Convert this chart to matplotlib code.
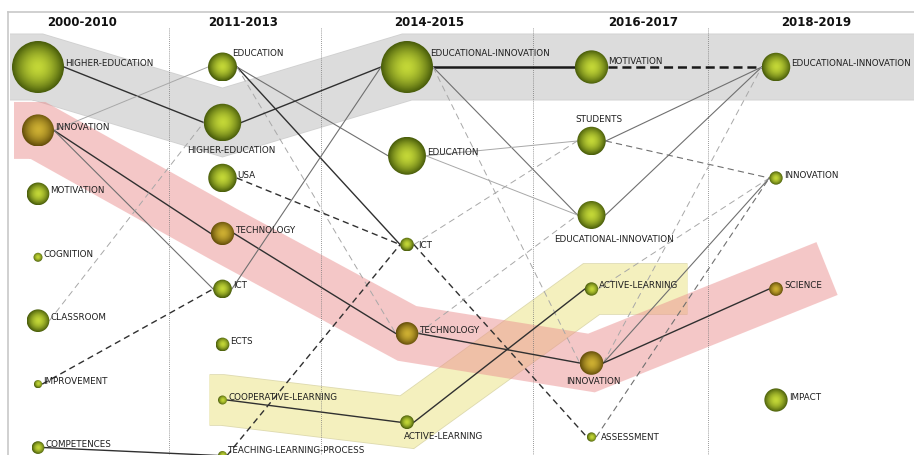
import matplotlib
matplotlib.use('Agg')
import matplotlib.pyplot as plt
from matplotlib.patches import Circle
import numpy as np

# periodos e temas (mapa de evolucao)
periodos = ['2000-2010', '2011-2013', '2014-2015', '2016-2017', '2018-2019']

temas_p1 = ['HIGHER-EDUCATION', 'INNOVATION', 'MOTIVATION', 'COGNITION', 'CLASSROOM', 'IMPROVEMENT', 'COMPETENCES']
docs_p1 = [100, 38, 19, 3, 19, 2.5, 6]

temas_p2 = ['EDUCATION', 'HIGHER-EDUCATION', 'USA', 'TECHNOLOGY', 'ICT', 'ECTS', 'COOPERATIVE-LEARNING',
            'TEACHING-LEARNING-PROCESS']
docs_p2 = [31, 52, 30, 20, 13, 7, 3, 3]

temas_p3 = ['EDUCATIONAL-INNOVATION', 'EDUCATION', 'ICT', 'TECHNOLOGY', 'ACTIVE-LEARNING']
docs_p3 = [100, 53, 7, 19, 7]

temas_p4 = ['MOTIVATION', 'STUDENTS', 'EDUCATIONAL-INNOVATION', 'ACTIVE-LEARNING', 'INNOVATION', 'ASSESSMENT']
docs_p4 = [41, 30, 29, 6.6, 20.6, 3.2]

temas_p5 = ['EDUCATIONAL-INNOVATION', 'INNOVATION', 'SCIENCE', 'IMPACT']
docs_p5 = [30, 6.6, 7, 20]

temas = [temas_p1, temas_p2, temas_p3, temas_p4, temas_p5]
docs = [docs_p1, docs_p2, docs_p3, docs_p4, docs_p5]

# temas da area tematica "innovation/technology" (cor dourada)
dourados = [(0, 'INNOVATION'), (1, 'TECHNOLOGY'), (2, 'TECHNOLOGY'), (3, 'INNOVATION'), (4, 'SCIENCE')]

# ligacoes: (periodo origem, tema origem, tema destino, tipo, peso)
ligacoes = [
    (0, 'HIGHER-EDUCATION', 'HIGHER-EDUCATION', 'solid', 2),
    (0, 'INNOVATION', 'EDUCATION', 'solid', 0),
    (0, 'INNOVATION', 'TECHNOLOGY', 'solid', 2),
    (0, 'INNOVATION', 'ICT', 'solid', 1),
    (0, 'CLASSROOM', 'HIGHER-EDUCATION', 'dashed', 0),
    (0, 'IMPROVEMENT', 'ICT', 'dashed', 2),
    (0, 'COMPETENCES', 'TEACHING-LEARNING-PROCESS', 'solid', 2),
    (1, 'EDUCATION', 'EDUCATION', 'solid', 1),
    (1, 'EDUCATION', 'ICT', 'solid', 2),
    (1, 'EDUCATION', 'TECHNOLOGY', 'dashed', 0),
    (1, 'HIGHER-EDUCATION', 'EDUCATIONAL-INNOVATION', 'solid', 2),
    (1, 'USA', 'ICT', 'dashed', 2),
    (1, 'TECHNOLOGY', 'TECHNOLOGY', 'solid', 2),
    (1, 'ICT', 'EDUCATIONAL-INNOVATION', 'solid', 1),
    (1, 'COOPERATIVE-LEARNING', 'ACTIVE-LEARNING', 'solid', 2),
    (1, 'TEACHING-LEARNING-PROCESS', 'ICT', 'dashed', 2),
    (2, 'EDUCATIONAL-INNOVATION', 'MOTIVATION', 'solid', 3),
    (2, 'EDUCATIONAL-INNOVATION', 'EDUCATIONAL-INNOVATION', 'solid', 1),
    (2, 'EDUCATIONAL-INNOVATION', 'INNOVATION', 'dashed', 0),
    (2, 'EDUCATION', 'STUDENTS', 'solid', 0),
    (2, 'EDUCATION', 'EDUCATIONAL-INNOVATION', 'solid', 0),
    (2, 'ICT', 'STUDENTS', 'dashed', 0),
    (2, 'ICT', 'ASSESSMENT', 'dashed', 2),
    (2, 'TECHNOLOGY', 'INNOVATION', 'solid', 2),
    (2, 'TECHNOLOGY', 'EDUCATIONAL-INNOVATION', 'dashed', 0),
    (2, 'ACTIVE-LEARNING', 'ACTIVE-LEARNING', 'solid', 2),
    (3, 'MOTIVATION', 'EDUCATIONAL-INNOVATION', 'dashed', 3),
    (3, 'STUDENTS', 'EDUCATIONAL-INNOVATION', 'solid', 1),
    (3, 'STUDENTS', 'INNOVATION', 'dashed', 1),
    (3, 'EDUCATIONAL-INNOVATION', 'EDUCATIONAL-INNOVATION', 'solid', 1),
    (3, 'ACTIVE-LEARNING', 'INNOVATION', 'dashed', 0),
    (3, 'INNOVATION', 'EDUCATIONAL-INNOVATION', 'dashed', 0),
    (3, 'INNOVATION', 'INNOVATION', 'solid', 1),
    (3, 'INNOVATION', 'SCIENCE', 'solid', 2),
    (3, 'ASSESSMENT', 'INNOVATION', 'dashed', 1),
]

# areas tematicas (faixas)
faixa_cinza = [(0, 'HIGHER-EDUCATION'), (1, 'HIGHER-EDUCATION'), (2, 'EDUCATIONAL-INNOVATION'),
               (3, 'MOTIVATION'), (4, 'EDUCATIONAL-INNOVATION')]
faixa_amarela = [(1, 'COOPERATIVE-LEARNING'), (2, 'ACTIVE-LEARNING'), (3, 'ACTIVE-LEARNING')]
faixa_rosa = [(0, 'INNOVATION'), (1, 'TECHNOLOGY'), (2, 'TECHNOLOGY'), (3, 'INNOVATION'), (4, 'SCIENCE')]

# ---- layout (pixels) ----
W, H = 914, 455
X0, DX = 38, 184.5
Y0, ALTURA = 67, 444
header_dx = [44, 21, 22, 52, 40]
divisorias = [169, 321, 533, 708]

fig = plt.figure(figsize=(W / 100, H / 100), dpi=100)
ax = fig.add_axes([0, 0, 1, 1])
ax.set_xlim(0, W)
ax.set_ylim(H, 0)
ax.axis('off')

# posicoes dos nos
pos = {}
for p, nomes in enumerate(temas):
    n = len(nomes)
    for k, nome in enumerate(nomes):
        r = 2.6 * np.sqrt(docs[p][k])
        pos[(p, nome)] = (X0 + DX * p, Y0 + k * ALTURA / n, r)


def desenhar_faixa(nos, cor, largura, esq, dir_modo, dir_len, alpha=1.0, z=1, borda=None):
    xs = [pos[n][0] for n in nos]
    ys = [pos[n][1] for n in nos]
    xs = [xs[0] - esq] + xs
    ys = [ys[0]] + ys
    if dir_modo == 'h':
        xs.append(xs[-1] + dir_len)
        ys.append(ys[-1])
    else:
        d = np.array([xs[-1] - xs[-2], ys[-1] - ys[-2]])
        d = d / np.linalg.norm(d)
        xs.append(xs[-1] + d[0] * dir_len)
        ys.append(ys[-1] + d[1] * dir_len)
    if borda:
        ax.plot(xs, ys, color=borda, lw=largura + 1.2, solid_joinstyle='miter',
                solid_capstyle='butt', zorder=z - 0.5)
    ax.plot(xs, ys, color=cor, lw=largura, alpha=alpha, solid_joinstyle='miter',
            solid_capstyle='butt', zorder=z)


desenhar_faixa(faixa_cinza, '#dcdcdc', 47, 28, 'h', 200, z=1, borda='#d0d0d0')
desenhar_faixa(faixa_amarela, '#f4f0be', 36, 13, 'h', 96, z=2, borda='#dedab0')
desenhar_faixa(faixa_rosa, '#eb9191', 41, 24, 's', 55, alpha=0.5, z=3)

# moldura
ax.plot([8, W], [12, 12], color='#c8c8c8', lw=1.2, zorder=4)
ax.plot([8, 8], [12, H], color='#c8c8c8', lw=1.2, zorder=4)

# divisorias pontilhadas
for xd in divisorias:
    ax.plot([xd, xd], [28, H], color='#777777', lw=0.6, linestyle=(0, (1, 1.5)), zorder=4)

# titulos dos periodos
for p, nome in enumerate(periodos):
    ax.text(X0 + DX * p + header_dx[p], 22, nome, ha='center', va='center',
            fontsize=8.5, fontweight='bold', color='#111111', zorder=10)

# ligacoes
estilos = {3: ('#1a1a1a', 1.8), 2: ('#303030', 1.0), 1: ('#707070', 0.8), 0: ('#a8a8a8', 0.7)}
for p, a, b, tipo, peso in ligacoes:
    xa, ya, ra = pos[(p, a)]
    xb, yb, rb = pos[(p + 1, b)]
    cor, lw = estilos[peso]
    if tipo == 'solid':
        ls = '-'
    else:
        traco, espaco = (6.5, 3.5) if peso == 3 else (4.5, 3)
        ls = (0, (traco / lw, espaco / lw))
    ax.plot([xa + ra, xb - rb], [ya, yb], color=cor, lw=lw, linestyle=ls, zorder=5)

# bolhas com gradiente radial
g = np.linspace(-1, 1, 80)
GX, GY = np.meshgrid(g, g)
D = np.clip(np.sqrt(GX ** 2 + GY ** 2), 0, 1)
verde = (np.array([195, 215, 55]), np.array([72, 92, 10]))
ouro = (np.array([205, 175, 50]), np.array([100, 78, 10]))

for (p, nome), (x, y, r) in pos.items():
    centro, borda = ouro if (p, nome) in dourados else verde
    t = (D ** 1.7)[..., None]
    img = (centro + (borda - centro) * t) / 255.0
    im = ax.imshow(img, extent=(x - r, x + r, y + r, y - r), zorder=6, interpolation='bilinear')
    circ = Circle((x, y), r, transform=ax.transData, facecolor='none', edgecolor='none')
    ax.add_patch(circ)
    im.set_clip_path(circ)

# rotulos
rotulos = {
    (1, 'EDUCATION'): (10, -13, 'left'),
    (1, 'HIGHER-EDUCATION'): (9, 28, 'center'),
    (1, 'TEACHING-LEARNING-PROCESS'): (5, -5, 'left'),
    (2, 'EDUCATIONAL-INNOVATION'): (23, -13, 'left'),
    (2, 'ICT'): (11, 1, 'left'),
    (2, 'ACTIVE-LEARNING'): (37, 14, 'center'),
    (3, 'MOTIVATION'): (17, -6, 'left'),
    (3, 'STUDENTS'): (7, -21, 'center'),
    (3, 'EDUCATIONAL-INNOVATION'): (22, 25, 'center'),
    (3, 'INNOVATION'): (2, 19, 'center'),
    (3, 'ASSESSMENT'): (9, 0, 'left'),
}
for (p, nome), (x, y, r) in pos.items():
    dx, dy, ha = rotulos.get((p, nome), (r + 1, -3, 'left'))
    ax.text(x + dx, y + dy, nome, ha=ha, va='center', fontsize=6.3, color='#1e1e1e', zorder=9)

ax.set_xlim(0, W)
ax.set_ylim(H, 0)
ax.set_aspect('auto')

fig.savefig('out.png', dpi=100)
